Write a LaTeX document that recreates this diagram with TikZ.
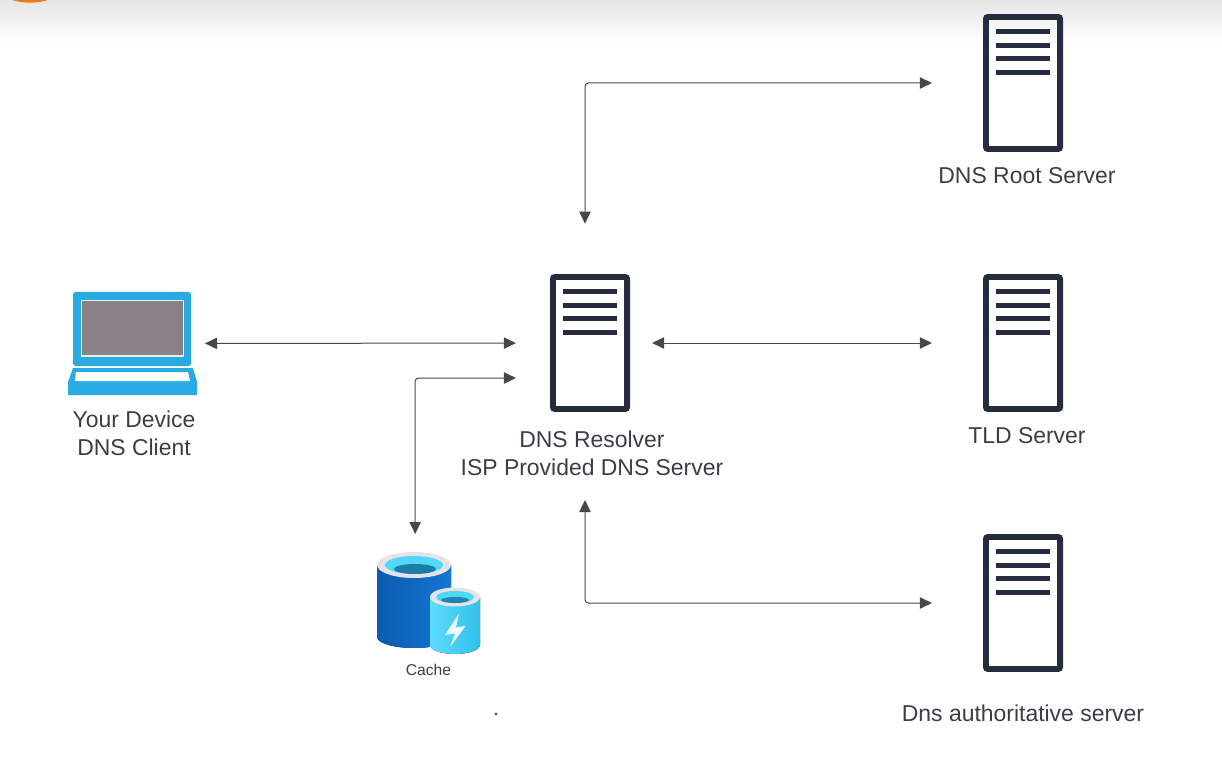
\documentclass[tikz,border=0pt]{standalone}
\usepackage{fontspec}
\setmainfont{Liberation Sans}
\usetikzlibrary{arrows.meta}
\definecolor{srvink}{RGB}{38,44,62}
\definecolor{linkink}{RGB}{70,70,76}
\definecolor{labelink}{RGB}{60,60,70}
\definecolor{lapblue}{RGB}{41,171,226}
\definecolor{lapgrey}{RGB}{138,128,136}
\tikzset{every picture/.style={line width=0.75pt}}
\tikzset{
  srvbox/.style={draw=srvink,line width=4.4pt,rounded corners=1.5pt,minimum width=55.6pt,minimum height=99pt,inner sep=0pt,outer sep=0pt},
  srvline/.style={draw=srvink,line width=3.9pt},
  iconbox/.style={inner sep=0pt,outer sep=0pt},
  link/.style={draw=linkink,line width=0.75pt,rounded corners=2.5pt,{Triangle[length=9pt,width=8.5pt]}-{Triangle[length=9pt,width=8.5pt]}},
  lbl/.style={text=labelink,font=\fontsize{17.2pt}{21pt}\selectfont,align=center,inner sep=0pt}
}

\begin{document}
\begin{tikzpicture}[x=0.75pt,y=0.75pt,yscale=-1,xscale=1]
\useasboundingbox (0,0) rectangle (1222,763);

%Shape: top band
\shade [top color=black!10,bottom color=white] (0,0) rectangle (1222,42);
\begin{scope}
\clip (0,0) rectangle (1222,763);
\fill [color={rgb, 255:red, 232; green, 125; blue, 30 }] (30,-58.3) circle [radius=61];
\end{scope}

%Servers
\node [srvbox] (root) at (1023,83) {};
\node [srvbox] (res) at (590,343) {};
\node [srvbox] (tld) at (1023,343) {};
\node [srvbox] (auth) at (1023,603) {};
\foreach \srv in {root,res,tld,auth}
  \foreach \off in {10.9,21.3,31.2,41.6}
    \draw [srvline] ([xshift=-20pt,yshift=\off pt]\srv.north) -- ([xshift=20pt,yshift=\off pt]\srv.north);

%Shape: laptop
\node [iconbox,minimum width=96.75pt,minimum height=77.25pt] (device) at (132.5,343.5) {};
\draw [fill=lapblue,draw=none,rounded corners=2pt] (73,292) rectangle (191,366);
\draw [fill=lapgrey,draw=white!85!lapblue,line width=1.1pt] (81.5,300.5) rectangle (183.5,356);
\fill [lapblue] (73,368) -- (193,368) -- (197,382) -- (197,395) -- (68,395) -- (68,382) -- cycle;
\fill [white] (76,372) -- (188,372) -- (190,381) -- (75,381) -- cycle;

%Shape: cache
\node [iconbox,minimum width=77.25pt,minimum height=77.25pt] (store) at (428.5,603.5) {};
\fill [left color={rgb, 255:red, 10; green, 92; blue, 175 },right color={rgb, 255:red, 20; green, 118; blue, 212 }] (377,565) -- (377,637) arc [start angle=180,end angle=0,x radius=37,y radius=11] -- (451,565) -- cycle;
\fill [color={rgb, 255:red, 230; green, 226; blue, 232 }] (414,565) ellipse [x radius=37,y radius=13];
\fill [color={rgb, 255:red, 80; green, 216; blue, 248 }] (414,565) ellipse [x radius=29,y radius=9];
\fill [color={rgb, 255:red, 30; green, 125; blue, 165 }] (415,569) ellipse [x radius=21,y radius=5];
\fill [left color={rgb, 255:red, 92; green, 220; blue, 255 },right color={rgb, 255:red, 50; green, 192; blue, 232 }] (430,597) -- (430,645) arc [start angle=180,end angle=0,x radius=25,y radius=9] -- (480,597) -- cycle;
\fill [color={rgb, 255:red, 230; green, 226; blue, 232 }] (455,597) ellipse [x radius=25,y radius=9.5];
\fill [color={rgb, 255:red, 80; green, 216; blue, 248 }] (455,597) ellipse [x radius=19,y radius=6];
\fill [color={rgb, 255:red, 30; green, 135; blue, 175 }] (455,600) ellipse [x radius=14,y radius=3];
\fill [white!92!lapblue] (459,613.5) -- (445,635) -- (455,633.5) -- (450,647) -- (465.5,626) -- (456,627.5) -- cycle;

%Straight Lines
\draw [link,shorten <=6pt,shorten >=27.75pt] (device) -- (res);
\draw [link,shorten <=18.75pt,shorten >=40.5pt] (res) -- (tld);
\draw [link,shorten <=40.5pt,shorten >=40pt] (root.west) -| ([xshift=-3.75pt]res.north);
\draw [link,shorten <=40.5pt,shorten >=68.25pt] (auth.west) -| ([xshift=-3.75pt]res.south);
\draw [link,shorten <=27.75pt,shorten >=13.5pt] ([yshift=26.25pt]res.west) -| ([xshift=-10pt]store.north);

% Text Node
\node [lbl] (rootlbl) at (1027,176) {DNS Root Server};
\node [lbl] (tldlbl) at (1027,436) {TLD Server};
\node [lbl] (authlbl) at (1023,713) {Dns authoritative server};
\node [lbl] (reslbl) at (592,453) {DNS Resolver\\ISP Provided DNS Server};
\node [lbl] (devlbl) at (134,433) {Your Device\\DNS Client};
\node [text=labelink,font=\fontsize{11.7pt}{14pt}\selectfont,inner sep=0pt] (cachelbl) at (428.5,670) {Cache};
\fill [color=black!80] (496,714) circle [radius=1.4];

\end{tikzpicture}
\end{document}
